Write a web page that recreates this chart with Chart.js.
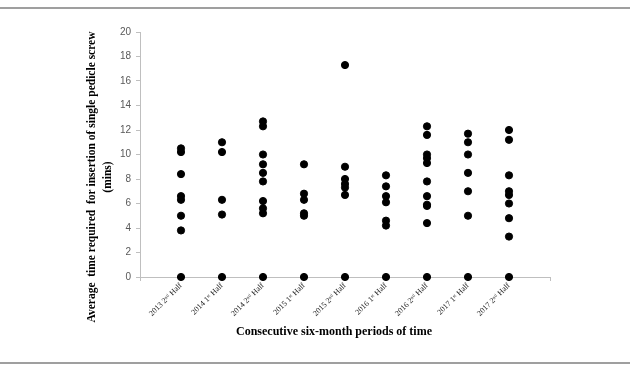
<!DOCTYPE html>
<html>
<head>
<meta charset="utf-8">
<script src="https://cdn.jsdelivr.net/npm/chart.js@4/dist/chart.umd.min.js"></script>
<style>
  body { margin: 0; background: #fff; }
  #wrap { width: 630px; height: 379px; }
</style>
</head>
<body>
<div id="wrap"><canvas id="screwChart" width="630" height="379"></canvas></div>
<script>
// Periods on the x axis
const periods = ['2013 2ⁿᵈ Half', '2014 1ˢᵗ Half', '2014 2ⁿᵈ Half', '2015 1ˢᵗ Half', '2015 2ⁿᵈ Half',
    '2016 1ˢᵗ Half', '2016 2ⁿᵈ Half', '2017 1ˢᵗ Half', '2017 2ⁿᵈ Half'];

// Average insertion time (mins) per case, one list per period
const p2013h2 = [10.5, 10.2, 8.4, 6.6, 6.3, 5.0, 3.8, 0];
const p2014h1 = [11.0, 10.2, 6.3, 5.1, 0];
const p2014h2 = [12.7, 12.3, 10.0, 9.2, 8.5, 7.8, 6.2, 5.6, 5.2, 0];
const p2015h1 = [9.2, 6.8, 6.3, 5.2, 5.0, 0];
const p2015h2 = [17.3, 9.0, 8.0, 7.6, 7.3, 6.7, 0];
const p2016h1 = [8.3, 7.4, 6.6, 6.1, 4.6, 4.2, 0];
const p2016h2 = [12.3, 11.6, 10.0, 9.7, 9.3, 7.8, 6.6, 5.9, 5.8, 4.4, 0];
const p2017h1 = [11.7, 11.0, 10.0, 8.5, 7.0, 5.0, 0];
const p2017h2 = [12.0, 11.2, 8.3, 7.0, 6.7, 6.0, 4.8, 3.3, 0];

const yTicks = [0, 2, 4, 6, 8, 10, 12, 14, 16, 18, 20];

const groups = [p2013h2, p2014h1, p2014h2, p2015h1, p2015h2, p2016h1, p2016h2, p2017h1, p2017h2];
const points = [];
groups.forEach((vals, i) => {
    vals.forEach(v => points.push({ x: i + 1, y: v }));
});

const axisGrey = '#bfbfbf';

// horizontal rules and the axis titles
const framePlugin = {
    id: 'frame',
    afterDraw(chart) {
        const ctx = chart.ctx;
        ctx.save();
        ctx.strokeStyle = '#808080';
        ctx.lineWidth = 1.5;
        ctx.beginPath();
        ctx.moveTo(0, 8); ctx.lineTo(630, 8);
        ctx.moveTo(0, 363); ctx.lineTo(630, 363);
        ctx.stroke();

        ctx.fillStyle = '#000';
        ctx.font = 'bold 12px "Liberation Serif"';
        ctx.textAlign = 'center';
        ctx.textBaseline = 'middle';
        ctx.fillText('Consecutive six-month periods of time', 334, 332);

        ctx.font = 'bold 11.5px "Liberation Serif"';
        ctx.translate(92, 177);
        ctx.rotate(-Math.PI / 2);
        ctx.fillText('Average  time required  for insertion of single pedicle screw', 0, 0);
        ctx.fillText('(mins)', 0, 16);
        ctx.restore();
    }
};

new Chart(document.getElementById('screwChart'), {
    type: 'scatter',
    data: {
        datasets: [{
            data: points,
            backgroundColor: '#000',
            borderColor: '#000',
            pointRadius: 3.6,
            pointHoverRadius: 3.6,
            clip: false
        }]
    },
    options: {
        responsive: false,
        animation: false,
        layout: { padding: { left: 0, top: 32, right: 80, bottom: 0 } },
        plugins: { legend: { display: false }, tooltip: { enabled: false } },
        scales: {
            x: {
                type: 'linear',
                min: 0,
                max: 10,
                afterFit: s => { s.height = 102; },
                afterBuildTicks: s => { s.ticks = Array.from({ length: 11 }, (_, i) => ({ value: i })); },
                border: { color: axisGrey },
                grid: {
                    drawOnChartArea: false,
                    tickLength: 4,
                    color: c => (c.tick && (c.tick.value === 0 || c.tick.value === 10)) ? axisGrey : 'rgba(0,0,0,0)'
                },
                ticks: {
                    autoSkip: false,
                    maxRotation: 45,
                    minRotation: 45,
                    padding: 0,
                    color: '#222',
                    font: { family: '"Liberation Serif", "DejaVu Serif"', size: 8 },
                    callback: v => periods[v - 1] || ''
                }
            },
            y: {
                min: 0,
                max: 20,
                afterFit: s => { s.width = 140; },
                afterBuildTicks: s => { s.ticks = yTicks.map(v => ({ value: v })); },
                border: { color: axisGrey },
                grid: { drawOnChartArea: false, tickLength: 4, color: axisGrey },
                ticks: {
                    padding: 5,
                    color: '#595959',
                    font: { family: '"Liberation Sans"', size: 10 }
                }
            }
        }
    },
    plugins: [framePlugin]
});
</script>
</body>
</html>
